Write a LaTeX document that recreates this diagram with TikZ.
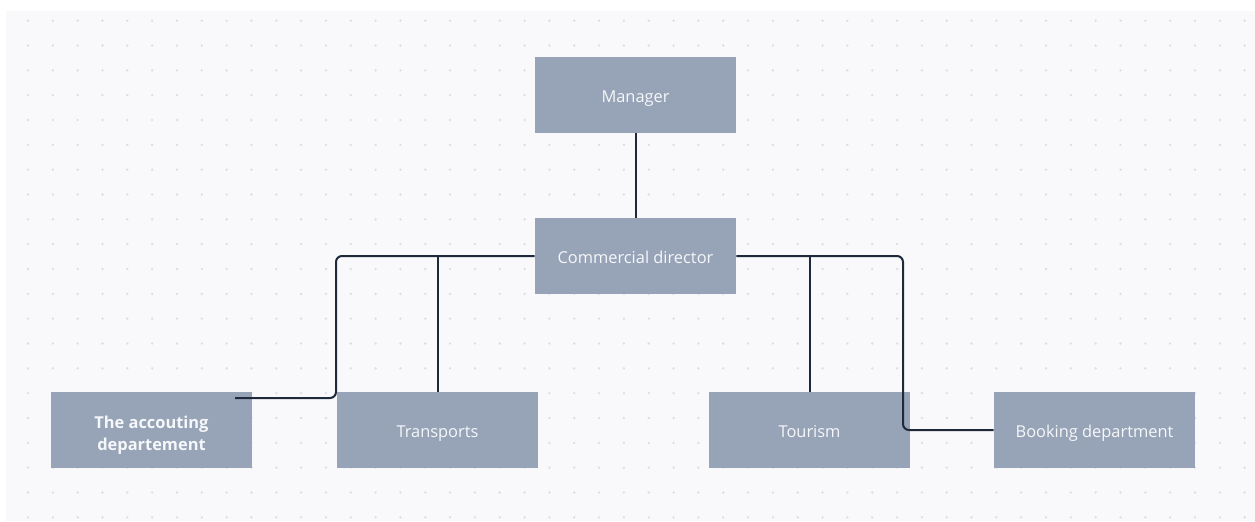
\documentclass[tikz,border=0pt]{standalone}
\usepackage{fontspec}
\setmainfont{Open Sans}
\definecolor{paper}{HTML}{F9F9FB}
\definecolor{dotc}{HTML}{DDDEE3}
\definecolor{boxfill}{HTML}{97A3B6}
\definecolor{boxtext}{HTML}{F5F7FA}
\definecolor{linkc}{HTML}{1E293B}
\begin{document}
\begin{tikzpicture}[
    x=0.5pt, y=-0.5pt,
    box/.style={fill=boxfill, minimum width=100.5pt, minimum height=38pt,
      inner sep=0pt, text=boxtext, align=center,
      text height=9.8pt, text depth=2pt,
      font=\fontsize{8.2}{11}\selectfont},
    link/.style={draw=linkc, line width=1pt, rounded corners=3pt}
  ]
  \useasboundingbox (0,0) rectangle (1255,521);
  \fill[paper] (6,11) rectangle (1255,521);
  % dotted grid
  \foreach \i in {0,...,49}
    \foreach \j in {0,...,20}
      \fill[dotc] ({28+24.83*\i},{20.7+24.83*\j}) circle[radius=0.65pt];

  \node[box] (manager) at (635.5,95) {Manager};
  \node[box] (director) at (635.5,256) {Commercial director};
  \node[box, text height=22.8pt, font=\fontsize{8.2}{11}\selectfont\bfseries] (accounting) at (151.5,430) {The accouting\\departement};
  \node[box] (transports) at (437.5,430) {Transports};
  \node[box] (tourism) at (809.5,430) {Tourism};
  \node[box] (booking) at (1094.5,430) {Booking department};
  \coordinate (accounting end) at (235,398);

  \draw[link] (manager) -- (director);
  \draw[link] (director.west) -- (336,256) -- (336,398) -- (accounting end);
  \draw[link] (transports.north |- director.west) -- (transports.north);
  \draw[link] (tourism.north |- director.east) -- (tourism.north);
  \draw[link] (director.east) -- (903,256) -- (903,430) -- (booking.west);
\end{tikzpicture}
\end{document}
